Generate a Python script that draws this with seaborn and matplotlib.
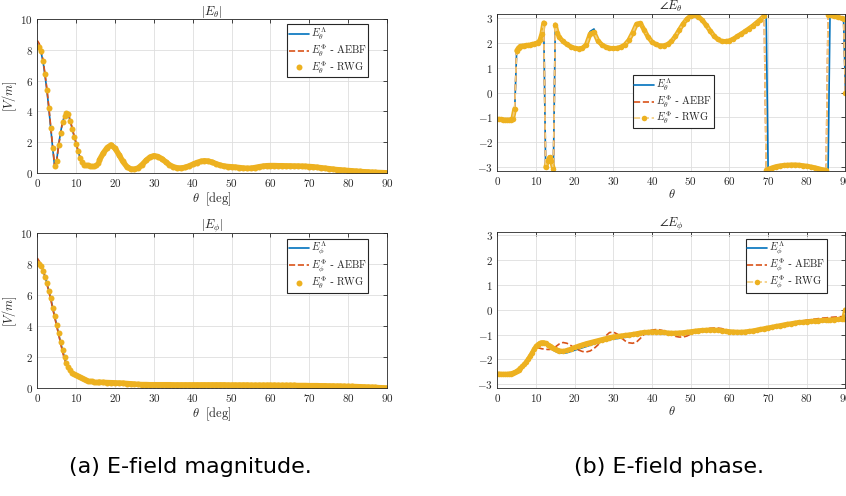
import matplotlib
matplotlib.use("Agg")
import matplotlib.pyplot as plt
from matplotlib.ticker import FuncFormatter, MultipleLocator
import numpy as np
import pandas as pd
import seaborn as sns

# sample angles in degrees: 0.5 deg steps up to 16, 1 deg after
theta_head = np.arange(0, 16.5, 0.5)
theta_tail = np.arange(17, 91)
theta_mag = np.concatenate([theta_head, theta_tail])
# phase panels get extra samples at the wrap-around jumps
theta_phase = np.concatenate([theta_head, np.arange(17, 70), [69.5],
                              np.arange(70, 86), [85.5], np.arange(86, 90),
                              [89.5, 90]])

# |E_theta|  (0..16 by 0.5)
mag_th_lam_head = [8.4, 8.1, 7.8, 7.2, 6.3, 5.3, 4.1, 2.8, 1.5, 0.35,
                   0.85, 1.85, 2.65, 3.3, 3.7, 3.9, 3.8, 3.35, 2.85, 2.35,
                   1.9, 1.4, 1.0, 0.7, 0.55, 0.52, 0.5, 0.48, 0.47, 0.46,
                   0.5, 0.62, 0.85]
mag_th_aebf_head = [8.6, 8.4, 7.9, 7.3, 6.4, 5.4, 4.2, 2.9, 1.6, 0.4,
                    0.8, 1.8, 2.6, 3.3, 3.7, 3.95, 3.85, 3.4, 2.9, 2.4,
                    1.95, 1.45, 1.0, 0.7, 0.55, 0.52, 0.5, 0.48, 0.47, 0.46,
                    0.5, 0.62, 0.85]
mag_th_rwg_head = [8.2, 8.2, 7.9, 7.3, 6.4, 5.4, 4.2, 2.9, 1.6, 0.45,
                   0.8, 1.8, 2.6, 3.3, 3.7, 3.9, 3.8, 3.35, 2.85, 2.35,
                   1.9, 1.4, 1.0, 0.7, 0.55, 0.52, 0.5, 0.48, 0.47, 0.46,
                   0.5, 0.62, 0.85]
# (17..90), same for all three methods
mag_th_tail = [1.3, 1.65, 1.82, 1.6, 1.2, 0.75, 0.42, 0.26, 0.24, 0.33,
               0.55, 0.82, 1.03, 1.12, 1.07, 0.93, 0.73, 0.53, 0.4, 0.33,
               0.32, 0.36, 0.45, 0.56, 0.67, 0.75, 0.79, 0.77, 0.7, 0.6,
               0.51, 0.45, 0.42, 0.4, 0.38, 0.35, 0.32, 0.3, 0.31, 0.35,
               0.4, 0.44, 0.47, 0.48, 0.48, 0.47, 0.47, 0.46, 0.46, 0.45,
               0.45, 0.44, 0.43, 0.42, 0.4, 0.37, 0.34, 0.31, 0.28, 0.25,
               0.22, 0.2, 0.18, 0.16, 0.14, 0.12, 0.1, 0.08, 0.07, 0.05,
               0.04, 0.03, 0.02, 0.01]

# |E_phi|
mag_ph_lam_head = [8.2, 8.1, 7.9, 7.6, 7.2, 6.75, 6.25, 5.75, 5.15, 4.6,
                   4.05, 3.5, 2.95, 2.45, 2.0, 1.6, 1.3, 1.12, 0.98, 0.9,
                   0.83, 0.77, 0.71, 0.65, 0.6, 0.55, 0.5, 0.47, 0.45, 0.43,
                   0.41, 0.4, 0.39]
mag_ph_aebf_head = [8.4, 8.2, 7.95, 7.6, 7.15, 6.7, 6.2, 5.7, 5.1, 4.55,
                    4.0, 3.45, 2.9, 2.35, 1.85, 1.5, 1.3, 1.15, 1.02, 0.95,
                    0.88, 0.82, 0.76, 0.7, 0.65, 0.6, 0.55, 0.5, 0.47, 0.44,
                    0.42, 0.4, 0.39]
mag_ph_rwg_head = [8.1, 8.05, 7.9, 7.6, 7.2, 6.8, 6.3, 5.8, 5.2, 4.65,
                   4.1, 3.55, 3.0, 2.5, 2.05, 1.65, 1.35, 1.15, 1.0, 0.92,
                   0.85, 0.78, 0.72, 0.66, 0.6, 0.55, 0.5, 0.47, 0.45, 0.43,
                   0.41, 0.4, 0.39]
mag_ph_tail = [0.38, 0.37, 0.36, 0.35, 0.34, 0.33, 0.31, 0.29, 0.27, 0.25,
               0.24, 0.24, 0.23, 0.23, 0.23, 0.23, 0.23, 0.23, 0.22, 0.22,
               0.22, 0.22, 0.22, 0.22, 0.22, 0.22, 0.22, 0.22, 0.22, 0.22,
               0.22, 0.22, 0.21, 0.21, 0.21, 0.21, 0.21, 0.21, 0.2, 0.2,
               0.2, 0.2, 0.2, 0.2, 0.2, 0.19, 0.19, 0.19, 0.19, 0.19,
               0.18, 0.18, 0.18, 0.17, 0.17, 0.17, 0.16, 0.16, 0.15, 0.15,
               0.14, 0.14, 0.13, 0.12, 0.12, 0.11, 0.1, 0.09, 0.08, 0.07,
               0.06, 0.04, 0.03, 0.02]

# angle E_theta (rad), on theta_phase
ph_th_rwg = [-1.07, -1.07, -1.08, -1.09, -1.1, -1.1, -1.1, -1.09, -1.05, -0.65,
             1.68, 1.8, 1.85, 1.87, 1.88, 1.89, 1.9, 1.91, 1.93, 1.95,
             1.97, 2.0, 2.1, 2.35, 2.8, -3.0, -2.75, -2.6, -2.75, -3.05,
             2.72, 2.4, 2.22,
             2.05, 1.93, 1.84, 1.78, 1.76, 1.78, 1.92, 2.35, 2.42, 2.08,
             1.92, 1.83, 1.78, 1.77, 1.78, 1.83, 1.92, 2.1, 2.4, 2.75,
             2.78, 2.5, 2.22, 2.03, 1.93, 1.88, 1.88, 1.93, 2.05, 2.25,
             2.5, 2.75, 2.95, 3.08, 3.12, 3.05, 2.9, 2.7, 2.48, 2.28,
             2.13, 2.06, 2.05, 2.08, 2.15, 2.25, 2.35, 2.45, 2.56, 2.67,
             2.8, 2.93, 3.08,
             -3.12,
             -3.08, -3.02, -2.97, -2.94, -2.92, -2.91, -2.9, -2.9, -2.91, -2.93,
             -2.95, -2.98, -3.01, -3.05, -3.09, -3.12,
             3.13,
             3.1, 3.06, 3.02, 2.98,
             2.95, 0.0]
ph_th_aebf = ph_th_rwg
ph_th_lam = [-1.07, -1.07, -1.08, -1.09, -1.1, -1.1, -1.1, -1.09, -1.05, -0.7,
             1.65, 1.8, 1.85, 1.87, 1.88, 1.89, 1.9, 1.91, 1.93, 1.95,
             1.97, 2.0, 2.12, 2.45, 2.82, -3.0, -2.75, -2.6, -2.75, -3.05,
             2.7, 2.45, 2.25,
             2.06, 1.93, 1.84, 1.78, 1.76, 1.79, 1.95, 2.45, 2.55, 2.12,
             1.93, 1.83, 1.78, 1.77, 1.78, 1.83, 1.93, 2.12, 2.43, 2.78,
             2.8, 2.5, 2.22, 2.03, 1.93, 1.88, 1.88, 1.93, 2.05, 2.25,
             2.5, 2.75, 2.95, 3.08, 3.12, 3.05, 2.9, 2.7, 2.48, 2.28,
             2.13, 2.06, 2.05, 2.08, 2.15, 2.25, 2.35, 2.45, 2.56, 2.67,
             2.8, 2.93, 3.08,
             3.12,
             -3.08, -3.02, -2.97, -2.94, -2.92, -2.91, -2.9, -2.9, -2.91, -2.93,
             -2.95, -2.98, -3.01, -3.05, -3.09, -3.12,
             -3.13,
             3.1, 3.06, 3.02, 2.98,
             2.95, 0.0]

# angle E_phi (rad), on theta_phase
ph_ph_rwg = [-2.58, -2.58, -2.59, -2.59, -2.59, -2.59, -2.58, -2.57, -2.55, -2.52,
             -2.48, -2.42, -2.35, -2.28, -2.2, -2.1, -1.99, -1.87, -1.74, -1.6,
             -1.48, -1.4, -1.35, -1.32, -1.32, -1.35, -1.4, -1.45, -1.5, -1.55,
             -1.59, -1.62, -1.65,
             -1.67, -1.64, -1.58, -1.52, -1.46, -1.41, -1.36, -1.32, -1.28, -1.24,
             -1.2, -1.16, -1.12, -1.09, -1.07, -1.05, -1.03, -1.01, -0.99, -0.96,
             -0.93, -0.91, -0.9, -0.89, -0.89, -0.9, -0.91, -0.93, -0.94, -0.94,
             -0.93, -0.92, -0.9, -0.88, -0.86, -0.84, -0.83, -0.82, -0.81, -0.81,
             -0.82, -0.84, -0.86, -0.88, -0.89, -0.9, -0.9, -0.89, -0.87, -0.85,
             -0.82, -0.79, -0.76,
             -0.745,
             -0.73, -0.7, -0.67, -0.64, -0.61, -0.58, -0.56, -0.53, -0.51, -0.5,
             -0.48, -0.47, -0.45, -0.44, -0.43, -0.42,
             -0.415,
             -0.41, -0.4, -0.39, -0.38,
             -0.37, 0.0]
ph_ph_lam = [-2.58, -2.58, -2.59, -2.59, -2.59, -2.59, -2.58, -2.57, -2.55, -2.52,
             -2.48, -2.42, -2.35, -2.28, -2.2, -2.1, -1.99, -1.87, -1.74, -1.6,
             -1.5, -1.42, -1.38, -1.36, -1.37, -1.4, -1.45, -1.51, -1.57, -1.63,
             -1.67, -1.71, -1.73,
             -1.75, -1.73, -1.68, -1.63, -1.58, -1.53, -1.48, -1.43, -1.38, -1.33,
             -1.29, -1.25, -1.21, -1.18, -1.16, -1.14, -1.11, -1.08, -1.05, -1.02,
             -0.99, -0.97, -0.95, -0.94, -0.94, -0.95, -0.97, -0.99, -1.0, -1.0,
             -0.99, -0.98, -0.96, -0.94, -0.92, -0.9, -0.88, -0.87, -0.86, -0.86,
             -0.87, -0.89, -0.91, -0.93, -0.94, -0.95, -0.95, -0.94, -0.92, -0.9,
             -0.87, -0.84, -0.81,
             -0.8,
             -0.78, -0.75, -0.72, -0.69, -0.66, -0.63, -0.61, -0.58, -0.56, -0.55,
             -0.53, -0.52, -0.5, -0.49, -0.48, -0.47,
             -0.465,
             -0.46, -0.45, -0.44, -0.43,
             -0.42, -0.2]
ph_ph_aebf = [-2.58, -2.58, -2.59, -2.59, -2.59, -2.59, -2.58, -2.57, -2.55, -2.52,
              -2.48, -2.42, -2.35, -2.28, -2.2, -2.1, -1.99, -1.87, -1.74, -1.6,
              -1.5, -1.53, -1.55, -1.57, -1.58, -1.59, -1.6, -1.6, -1.58, -1.55,
              -1.5, -1.44, -1.38,
              -1.32, -1.35, -1.44, -1.54, -1.62, -1.68, -1.7, -1.66, -1.56, -1.42,
              -1.25, -1.06, -0.92, -0.9, -0.98, -1.12, -1.25, -1.33, -1.35, -1.3,
              -1.15, -0.98, -0.87, -0.82, -0.8, -0.81, -0.85, -0.92, -1.0, -1.07,
              -1.1, -1.1, -1.06, -0.98, -0.9, -0.83, -0.79, -0.77, -0.75, -0.74,
              -0.74, -0.76, -0.8, -0.85, -0.88, -0.89, -0.89, -0.88, -0.86, -0.84,
              -0.81, -0.78, -0.75,
              -0.73,
              -0.71, -0.68, -0.65, -0.62, -0.59, -0.56, -0.53, -0.5, -0.47, -0.45,
              -0.42, -0.4, -0.38, -0.36, -0.34, -0.33,
              -0.32,
              -0.31, -0.3, -0.29, -0.28,
              -0.27, -0.26]

BLUE = "#0072BD"
ORANGE = "#D95319"
YELLOW = "#EDB120"
YELLOW_LIGHT = "#F3CD7E"
DARK = "#262626"

sns.set_theme(style="white")
plt.rcParams.update({
    "font.family": ["DejaVu Sans"],
    "mathtext.fontset": "cm",
    "axes.edgecolor": DARK,
    "axes.linewidth": 0.6,
})


def math_fmt(v, pos):
    return f"${v:g}$"


def draw_band(ax, theta, values, start, lw):
    """Thick RWG band (the dense markers in the original merge into one)."""
    df = pd.DataFrame({"theta": theta, "val": values})
    # split the band wherever the phase wraps around
    df["seg"] = (df["val"].diff().abs() > 2).cumsum()
    df = df[df["theta"] >= start]
    sns.lineplot(data=df, x="theta", y="val", units="seg", estimator=None,
                 ax=ax, color=YELLOW, lw=lw, legend=False, sort=False,
                 solid_capstyle="round")


def draw_panel(ax, theta, lam, aebf, rwg, labels, title, xlabel, phase,
               legend_kw):
    sns.lineplot(x=theta, y=lam, ax=ax, color=BLUE, lw=1.2,
                 label=labels[0], sort=False)
    sns.lineplot(x=theta, y=aebf, ax=ax, color=ORANGE, lw=1.2, ls="--",
                 label=labels[1], sort=False)
    if phase:
        draw_band(ax, theta, rwg, 0, 3.4)
        sns.lineplot(x=theta, y=rwg, ax=ax, color=YELLOW_LIGHT, lw=1.2,
                     ls="--", marker="o", ms=4.0, mfc=YELLOW, mec=YELLOW,
                     mew=0, label=labels[2], sort=False)
    else:
        draw_band(ax, theta, rwg, 16, 4.0)
        sns.lineplot(x=theta, y=rwg, ax=ax, color=YELLOW, ls="none",
                     marker="o", ms=4.3, mew=0, label=labels[2], sort=False)

    ax.set_xlim(0, 90)
    ax.xaxis.set_major_locator(MultipleLocator(10))
    if phase:
        ax.set_ylim(-np.pi, np.pi)
        ax.yaxis.set_major_locator(MultipleLocator(1))
        ax.set_ylabel("")
    else:
        ax.set_ylim(0, 10)
        ax.yaxis.set_major_locator(MultipleLocator(2))
        ax.set_ylabel(r"$[V/m]$", fontsize=9, labelpad=1)
    ax.xaxis.set_major_formatter(FuncFormatter(math_fmt))
    ax.yaxis.set_major_formatter(FuncFormatter(math_fmt))
    ax.grid(True, color="#dedede", lw=0.6)
    ax.tick_params(direction="in", length=3, width=0.6, colors=DARK,
                   labelsize=8, top=True, right=True, pad=3)
    ax.set_title(title, fontsize=9, pad=3)
    ax.set_xlabel(xlabel, fontsize=9, labelpad=1)

    leg = ax.legend(fontsize=7.5, frameon=True, fancybox=False,
                    edgecolor=DARK, framealpha=1, borderpad=0.15,
                    labelspacing=0.0, handlelength=1.9, handletextpad=0.2,
                    borderaxespad=0.3, **legend_kw)
    leg.get_frame().set_linewidth(0.8)


fig = plt.figure(figsize=(8.46, 4.96), dpi=100)
ax_tl = fig.add_axes([0.0441, 0.6512, 0.4134, 0.3105])
ax_bl = fig.add_axes([0.0441, 0.2171, 0.4134, 0.3125])
ax_tr = fig.add_axes([0.5878, 0.6556, 0.4116, 0.3157])
ax_br = fig.add_axes([0.5878, 0.2181, 0.4116, 0.3151])

draw_panel(ax_tl, theta_mag,
           mag_th_lam_head + mag_th_tail,
           mag_th_aebf_head + mag_th_tail,
           mag_th_rwg_head + mag_th_tail,
           [r"$E_\theta^\Lambda$", r"$E_\theta^\Phi$ - $\mathrm{AEBF}$",
            r"$E_\theta^\Phi$ - $\mathrm{RWG}$"],
           r"$|E_\theta|$", r"$\theta\ \ \mathrm{[deg]}$", False,
           dict(loc="upper right", bbox_to_anchor=(0.955, 0.985)))
draw_panel(ax_bl, theta_mag,
           mag_ph_lam_head + mag_ph_tail,
           mag_ph_aebf_head + mag_ph_tail,
           mag_ph_rwg_head + mag_ph_tail,
           [r"$E_\phi^\Lambda$", r"$E_\phi^\Phi$ - $\mathrm{AEBF}$",
            r"$E_\theta^\Phi$ - $\mathrm{RWG}$"],
           r"$|E_\phi|$", r"$\theta\ \ \mathrm{[deg]}$", False,
           dict(loc="upper right", bbox_to_anchor=(0.955, 0.985)))
draw_panel(ax_tr, theta_phase, ph_th_lam, ph_th_aebf, ph_th_rwg,
           [r"$E_\theta^\Lambda$", r"$E_\theta^\Phi$ - $\mathrm{AEBF}$",
            r"$E_\theta^\Phi$ - $\mathrm{RWG}$"],
           r"$\angle E_\theta$", r"$\theta$", True,
           dict(loc="upper left", bbox_to_anchor=(0.38, 0.63)))
draw_panel(ax_br, theta_phase, ph_ph_lam, ph_ph_aebf, ph_ph_rwg,
           [r"$E_\phi^\Lambda$", r"$E_\phi^\Phi$ - $\mathrm{AEBF}$",
            r"$E_\phi^\Phi$ - $\mathrm{RWG}$"],
           r"$\angle E_\phi$", r"$\theta$", True,
           dict(loc="upper right", bbox_to_anchor=(0.955, 0.975)))

fig.text(0.2246, 1 - 467 / 496, "(a) E-field magnitude.", ha="center",
         va="center", fontsize=16, color="black")
fig.text(0.791, 1 - 467 / 496, "(b) E-field phase.", ha="center",
         va="center", fontsize=16, color="black")

fig.savefig("out.png", dpi=100)
